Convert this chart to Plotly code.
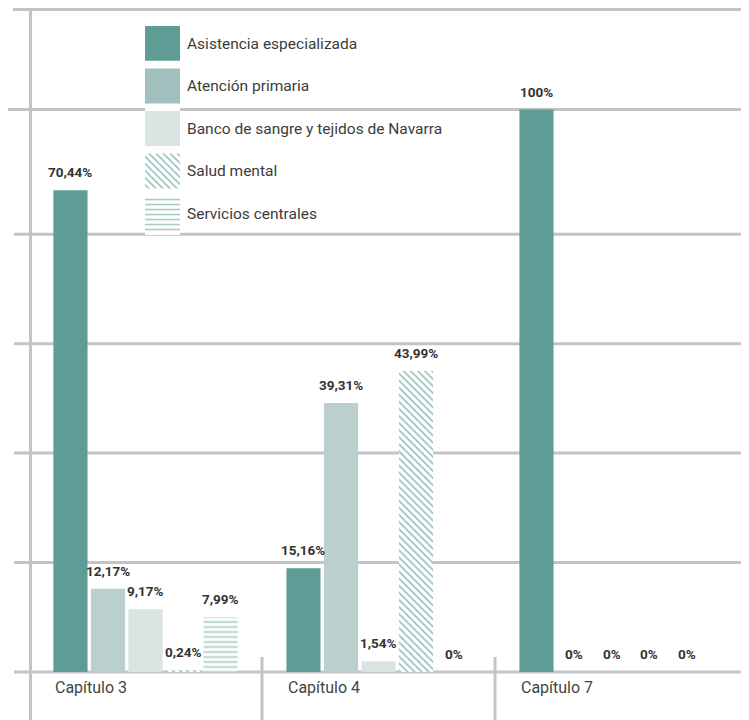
import plotly.graph_objects as go

# ---------------- data ----------------
categories = ["Capítulo 3", "Capítulo 4", "Capítulo 7"]
series_names = [
    "Asistencia especializada",
    "Atención primaria",
    "Banco de sangre y tejidos de Navarra",
    "Salud mental",
    "Servicios centrales",
]
asistencia = [70.44, 15.16, 100]
atencion = [12.17, 39.31, 0]
banco = [9.17, 1.54, 0]
salud = [0.24, 43.99, 0]
servicios = [7.99, 0, 0]
series_values = [asistencia, atencion, banco, salud, servicios]
grid_values = [16, 32, 48, 64]

# ---------------- styles ----------------
bar_colors = ["#5f9c96", "#bccfcf", "#d9e3e2", "#8fbfb8", "#a0c9c2"]
legend_colors = ["#5f9c96", "#a1bfbc", "#dae4e3", "#8fbfb8", "#a0c9c2"]
pattern_shapes = ["", "", "", "\\", "-"]
GRID = "#c4c4c8"
FONT = "Roboto, Liberation Sans, sans-serif"

# the page body has an 8px margin: figure is sized to fill the 749x720 window
OFF = 8
VIEW_W, VIEW_H = 749, 720
W, H = VIEW_W - OFF, VIEW_H - OFF
PLOT_LEFT, PLOT_RIGHT, PLOT_BOTTOM = 29, 728, 672   # screen pixels
ML = PLOT_LEFT - OFF
MR = W - (PLOT_RIGHT - OFF)
MB = H - (PLOT_BOTTOM - OFF)
MT = 0
plot_w = W - ML - MR
paper_h = H - MT - MB
px_per_unit = 6.84
top_px = 109.5
bargap = 0.195
bargroupgap = 0.09


def px_x(p):
    return (p - PLOT_LEFT) / plot_w


def px_y(p):
    return (PLOT_BOTTOM - p) / paper_h


dom_top = px_y(top_px)
y_top = (PLOT_BOTTOM - top_px) / px_per_unit


def fmt(v):
    if float(v).is_integer():
        return f"{int(v)}%"
    return f"{v:.2f}".replace(".", ",") + "%"


fig = go.Figure()

for name, vals, col, shp in zip(series_names, series_values, bar_colors, pattern_shapes):
    marker = dict(color=col, line=dict(width=0))
    if shp:
        marker["pattern"] = dict(shape=shp, fgcolor=col, bgcolor="white",
                                 size=5, solidity=0.3, fillmode="replace")
    fig.add_trace(go.Bar(x=categories, y=vals, name=name, marker=marker,
                         showlegend=False, hoverinfo="x+y+name"))

# legend built as a small bar subplot (swatches) with its category labels as text
fig.add_trace(go.Bar(
    x=[1] * len(series_names), y=series_names, orientation="h",
    xaxis="x2", yaxis="y2", width=0.82, showlegend=False, hoverinfo="skip",
    marker=dict(color=legend_colors, line=dict(width=0),
                pattern=dict(shape=pattern_shapes, fgcolor=legend_colors,
                             bgcolor=["white"] * len(series_names),
                             size=5, solidity=0.3, fillmode="replace")),
))

annotations = []
n = len(series_names)
slot = (1 - bargap) / n
for j, vals in enumerate(series_values):
    for i, v in enumerate(vals):
        xpos = i + (j - (n - 1) / 2) * slot
        if v > y_top:
            yref, ypos = "paper", dom_top
        else:
            yref, ypos = "y", v
        annotations.append(dict(
            x=xpos, y=ypos, xref="x", yref=yref, text=fmt(v), showarrow=False,
            yanchor="bottom", xanchor="center", yshift=8,
            font=dict(family=FONT, size=13.5, color="#333333", weight="bold"),
        ))

for i, c in enumerate(categories):
    annotations.append(dict(
        x=i, y=0, xref="x", yref="paper", text=c, showarrow=False,
        xanchor="left", yanchor="top", xshift=-93, yshift=-4,
        font=dict(family=FONT, size=16, color="#444444"),
    ))

line = dict(color=GRID, width=3)
shapes = []
x_right = px_x(VIEW_W)
shapes.append(dict(type="line", xref="paper", yref="paper", x0=px_x(14), x1=x_right,
                   y0=0, y1=0, line=line, layer="below"))
for g in grid_values:
    shapes.append(dict(type="line", xref="paper", yref="y", x0=px_x(14), x1=x_right,
                       y0=g, y1=g, line=line, layer="below"))
shapes.append(dict(type="line", xref="paper", yref="paper", x0=px_x(8), x1=x_right,
                   y0=dom_top, y1=dom_top, line=line, layer="below"))
shapes.append(dict(type="line", xref="paper", yref="paper", x0=px_x(13), x1=x_right,
                   y0=px_y(9.5), y1=px_y(9.5), line=line, layer="below"))
shapes.append(dict(type="line", xref="paper", yref="paper", x0=px_x(30.5), x1=px_x(30.5),
                   y0=px_y(OFF), y1=px_y(VIEW_H), line=line, layer="below"))
for k in (1, 2):
    xs = k / len(categories)
    shapes.append(dict(type="line", xref="paper", yref="paper", x0=xs, x1=xs,
                       y0=px_y(657), y1=px_y(VIEW_H), line=line, layer="below"))

fig.update_layout(
    width=W, height=H,
    margin=dict(l=ML, r=MR, t=MT, b=MB, pad=0),
    paper_bgcolor="white", plot_bgcolor="white",
    barmode="group", bargap=bargap, bargroupgap=bargroupgap,
    font=dict(family=FONT, color="#333333"),
    xaxis=dict(type="category", showticklabels=False, showgrid=False, zeroline=False,
               showline=False, ticks="", fixedrange=True),
    yaxis=dict(range=[0, y_top], domain=[0, dom_top], visible=False, fixedrange=True),
    xaxis2=dict(domain=[px_x(145), px_x(180)], range=[0, 1], visible=False,
                anchor="y2", fixedrange=True),
    yaxis2=dict(domain=[px_y(234.9), px_y(22.1)], type="category",
                categoryorder="array", categoryarray=series_names,
                autorange="reversed", side="right", anchor="x2",
                showgrid=False, zeroline=False, showline=False, ticks="",
                ticklabelstandoff=6,
                tickfont=dict(family=FONT, size=15.5, color="#3c3c3c"),
                fixedrange=True),
    annotations=annotations,
    shapes=shapes,
)

fig.write_html("out.html")
